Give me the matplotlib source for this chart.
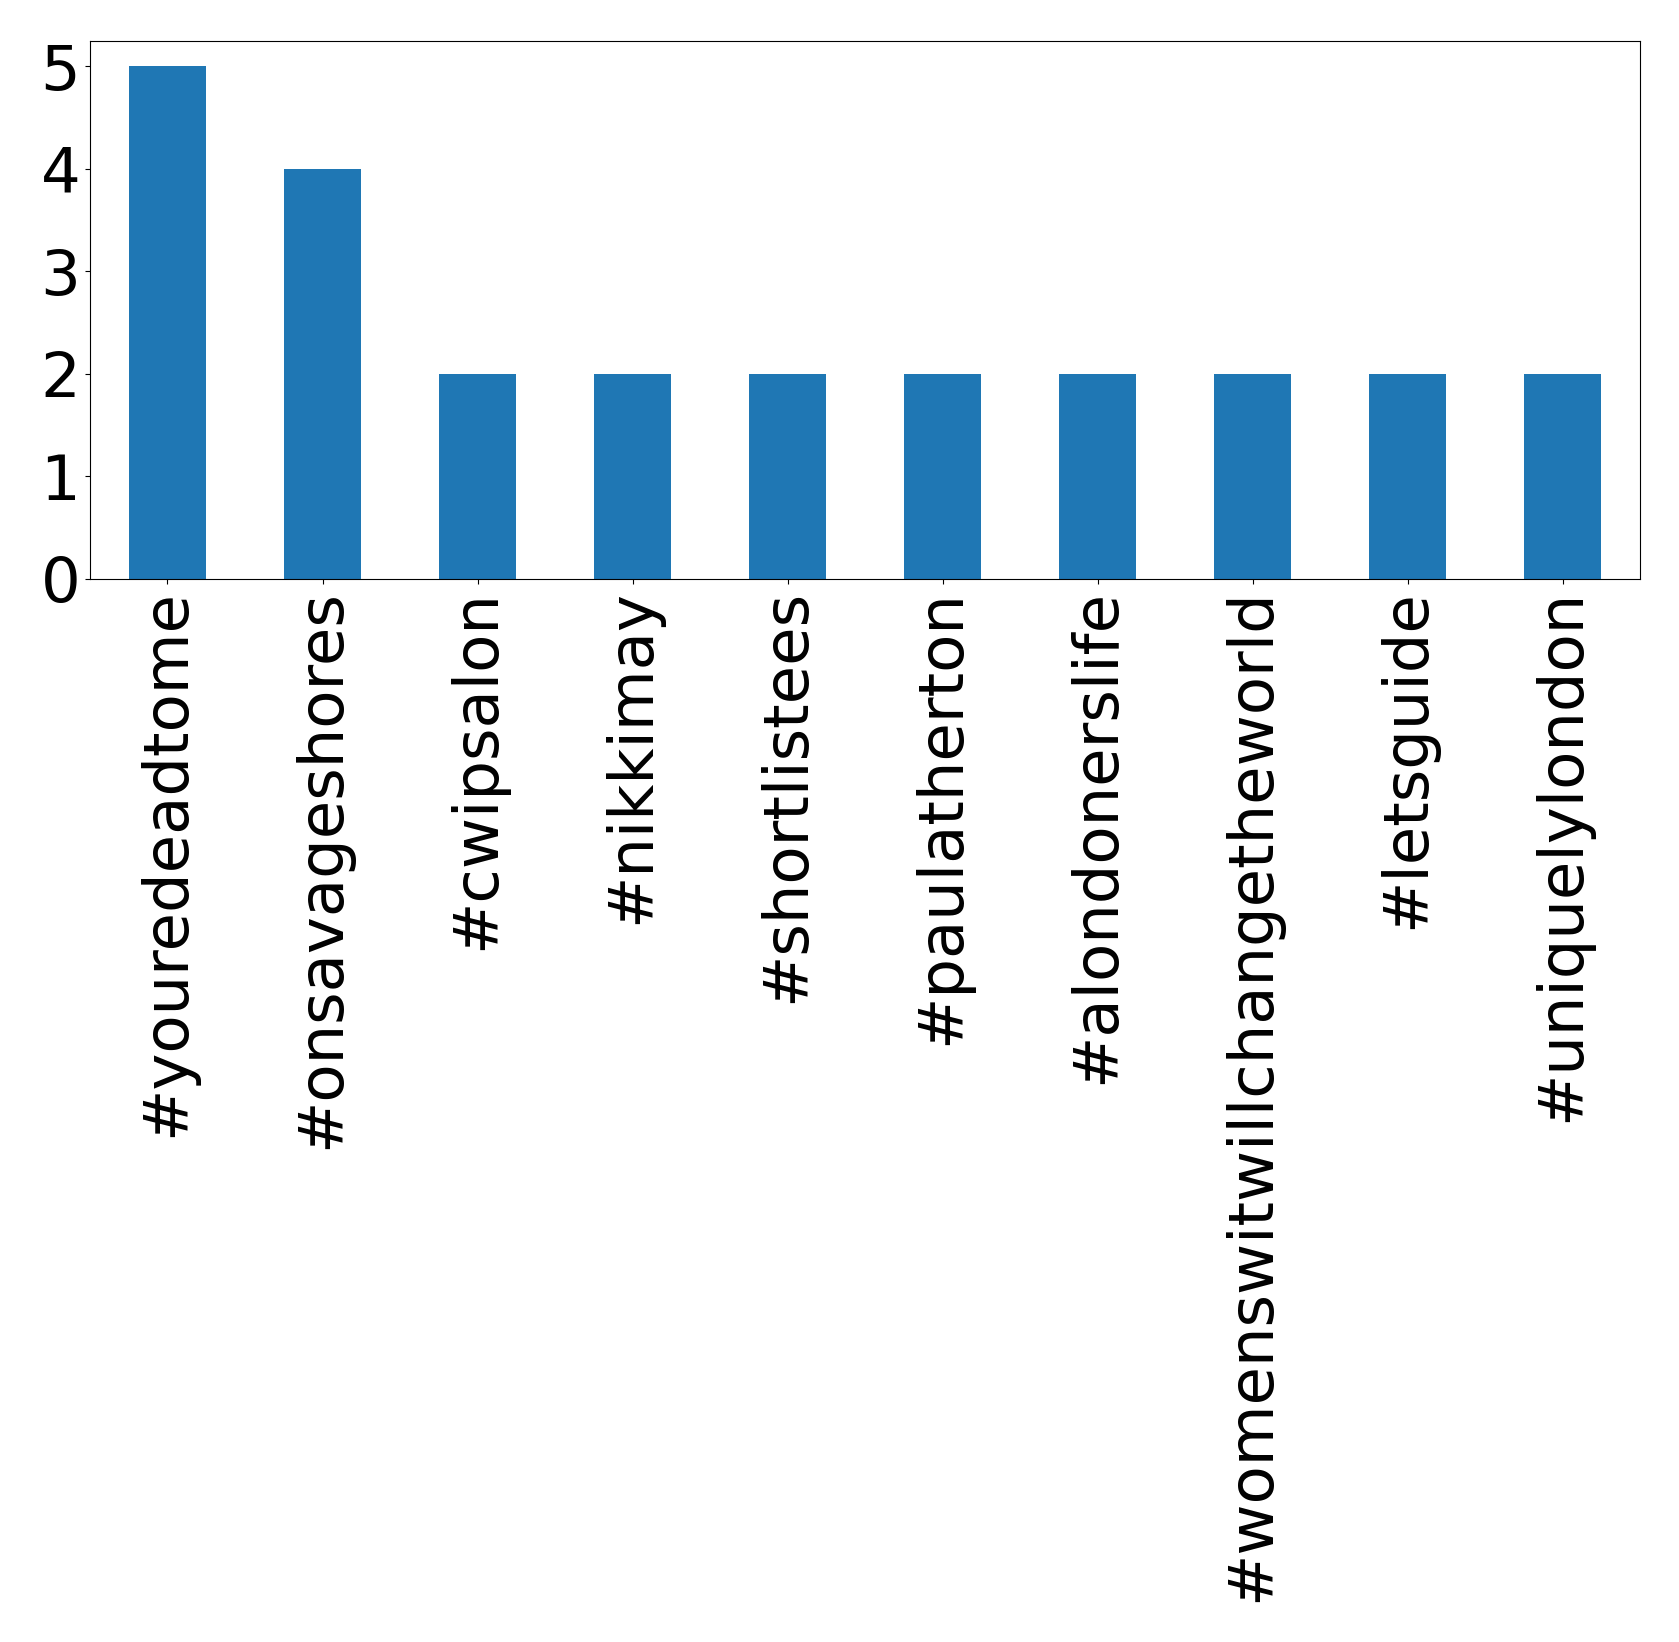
import matplotlib
matplotlib.use("Agg")
import matplotlib.pyplot as plt

hashtags = [
    "#youredeadtome",
    "#onsavageshores",
    "#cwipsalon",
    "#nikkimay",
    "#shortlistees",
    "#paulatherton",
    "#alondonerslife",
    "#womenswitwillchangetheworld",
    "#letsguide",
    "#uniquelylondon",
]
counts = [5, 4, 2, 2, 2, 2, 2, 2, 2, 2]
y_ticks = [0, 1, 2, 3, 4, 5]

fig, ax = plt.subplots(figsize=(16.79, 16.42), dpi=100)
ax.bar(range(len(hashtags)), counts, width=0.5, color="#1f77b4")
ax.set_xticks(range(len(hashtags)))
ax.set_xticklabels(hashtags, rotation=90, fontsize=45)
ax.set_yticks(y_ticks)
ax.tick_params(axis="y", labelsize=45)
ax.set_xlim(-0.5, len(hashtags) - 0.5)
ax.set_ylim(0, 5.25)

fig.subplots_adjust(left=0.0536, right=0.9768, top=0.9752, bottom=0.6474)
plt.savefig("out.png", dpi=100)
